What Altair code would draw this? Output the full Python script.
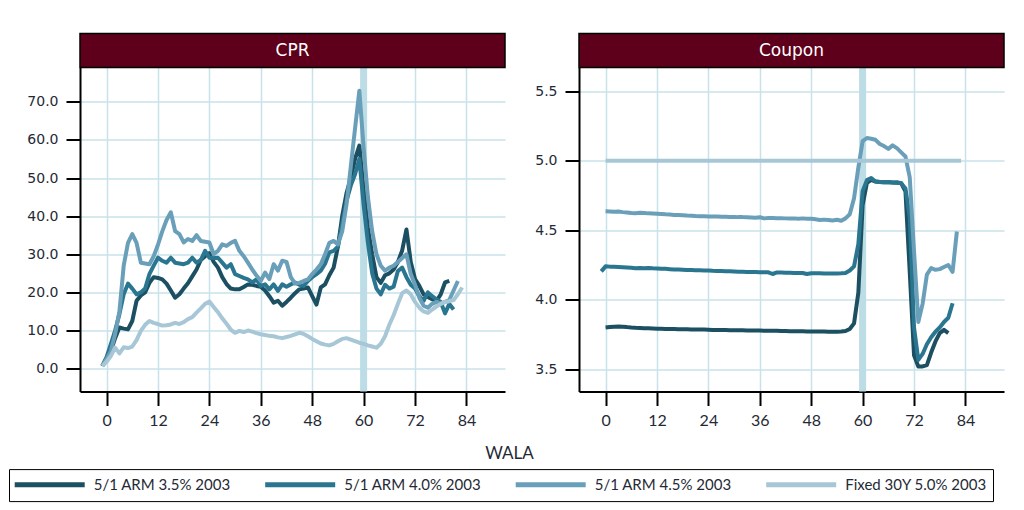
import altair as alt
import pandas as pd

# ---------------- data ----------------
series_names = ["5/1 ARM 3.5% 2003", "5/1 ARM 4.0% 2003", "5/1 ARM 4.5% 2003", "Fixed 30Y 5.0% 2003"]
series_colors = ["#1b4f61", "#2a7690", "#6a9fba", "#a7c7d7"]

x_ticks = [0, 12, 24, 36, 48, 60, 72, 84]
cpr_ticks = [0, 10, 20, 30, 40, 50, 60, 70]
cpn_ticks = [3.5, 4.0, 4.5, 5.0, 5.5]
band_wala = [60]

# CPR panel
cpr_35_wala = list(range(-1, 81))
cpr_35 = [0.7, 2.5, 4.6, 8.0, 10.8, 10.5, 10.3, 12.5, 17.8, 19.2, 20.0, 22.5, 24.0, 23.8, 23.4, 22.3,
          20.5, 18.6, 19.5, 21.0, 22.4, 24.2, 26.0, 28.5, 29.5, 30.3, 28.0, 26.5, 24.0, 22.2, 21.0,
          20.8, 20.8, 21.4, 22.1, 22.0, 21.7, 21.5, 20.5, 19.0, 17.3, 17.8, 16.5, 17.5, 18.6, 19.8,
          20.8, 21.0, 21.3, 19.0, 16.8, 21.3, 22.1, 24.5, 26.5, 32.0, 40.0, 46.0, 50.0, 55.0, 58.5,
          47.0, 37.0, 30.0, 24.0, 22.5, 24.5, 25.0, 26.0, 28.0, 31.0, 36.5, 28.0, 23.5, 21.7, 19.5,
          18.8, 18.2, 17.8, 19.5, 22.6, 23.0]

cpr_40_wala = list(range(-1, 82))
cpr_40 = [0.7, 3.0, 6.4, 10.0, 14.3, 19.5, 22.3, 21.0, 19.5, 20.0, 21.0, 24.8, 27.0, 29.1, 28.3, 27.8,
          29.1, 27.8, 27.6, 27.4, 27.8, 29.1, 27.8, 28.5, 30.9, 29.1, 29.0, 29.1, 27.8, 26.5, 27.4,
          24.8, 24.3, 23.8, 23.4, 22.6, 23.4, 21.7, 22.1, 20.8, 22.1, 20.4, 22.1, 21.5, 22.1, 22.6,
          22.0, 21.7, 23.0, 24.0, 24.8, 25.7, 27.5, 30.5, 30.9, 32.0, 38.0, 44.0, 48.0, 51.0, 55.0,
          43.0, 33.0, 25.0, 21.0, 19.5, 22.0, 21.0, 21.5, 25.6, 26.5, 24.0, 22.0, 21.0, 19.0, 17.8,
          20.0, 19.0, 18.2, 17.5, 14.5, 17.0, 15.5]

cpr_45_wala = list(range(-1, 83))
cpr_45 = [0.7, 2.5, 4.6, 9.0, 15.0, 27.0, 33.0, 35.3, 33.0, 27.8, 27.6, 27.4, 29.5, 32.5, 36.0, 39.0,
          41.0, 36.1, 35.3, 33.1, 34.0, 33.5, 35.0, 33.5, 33.3, 33.1, 30.0, 30.9, 32.6, 32.2, 33.0,
          33.5, 30.9, 29.5, 27.8, 26.0, 24.4, 23.0, 25.2, 23.5, 27.4, 25.7, 28.3, 28.0, 24.0, 22.3,
          22.5, 23.0, 23.4, 24.8, 26.0, 27.4, 30.0, 33.0, 33.5, 32.6, 36.0, 43.0, 53.0, 63.0, 72.9,
          58.0, 45.0, 36.0, 30.0, 27.0, 25.7, 26.5, 27.0, 28.0, 29.0, 30.0, 24.8, 22.0, 18.6, 16.5,
          16.0, 17.0, 17.5, 17.0, 17.5, 18.0, 20.5, 23.0]

cpr_fx_wala = list(range(-1, 84))
cpr_fx = [0.7, 1.8, 3.3, 5.5, 4.0, 5.6, 5.4, 5.8, 7.5, 9.9, 11.5, 12.5, 12.0, 11.7, 11.3, 11.4,
          11.6, 12.0, 11.7, 12.2, 13.0, 13.5, 14.7, 15.8, 17.0, 17.6, 16.2, 14.8, 13.2, 11.8, 10.2,
          9.4, 9.9, 9.6, 10.0, 9.7, 9.3, 9.0, 8.8, 8.6, 8.5, 8.2, 8.0, 8.3, 8.6, 9.0, 9.4, 9.1, 8.5,
          7.8, 7.2, 6.6, 6.3, 6.1, 6.5, 7.2, 7.8, 8.0, 7.6, 7.2, 6.8, 6.5, 6.1, 5.8, 5.5, 6.5, 8.5,
          11.5, 14.0, 17.0, 19.8, 20.5, 19.5, 17.5, 16.0, 15.0, 14.6, 15.5, 16.3, 17.0, 17.5, 17.7,
          18.0, 19.5, 21.3]

# Coupon panel
cpn_35_wala = list(range(0, 81))
cpn_35 = [3.800, 3.804, 3.806, 3.807, 3.805, 3.803, 3.800, 3.798, 3.797, 3.795, 3.794, 3.793, 3.792,
          3.791, 3.790, 3.790, 3.789, 3.788, 3.788, 3.787, 3.786, 3.786, 3.785, 3.785, 3.784, 3.783,
          3.783, 3.782, 3.782, 3.781, 3.781, 3.780, 3.780, 3.779, 3.779, 3.778, 3.778, 3.777, 3.777,
          3.776, 3.776, 3.775, 3.775, 3.774, 3.774, 3.773, 3.773, 3.772, 3.772, 3.771, 3.771, 3.771,
          3.770, 3.770, 3.770, 3.772, 3.775, 3.790, 3.830, 4.050, 4.680, 4.840, 4.862, 4.850, 4.846,
          4.844, 4.845, 4.843, 4.842, 4.838, 4.780, 4.200, 3.600, 3.520, 3.520, 3.530, 3.620, 3.700,
          3.760, 3.783, 3.760]

cpn_40_wala = list(range(-1, 82))
cpn_40 = [4.204, 4.240, 4.238, 4.237, 4.236, 4.234, 4.232, 4.230, 4.226, 4.228, 4.226, 4.228, 4.226,
          4.225, 4.222, 4.222, 4.220, 4.218, 4.218, 4.216, 4.214, 4.214, 4.212, 4.212, 4.210, 4.210,
          4.208, 4.207, 4.206, 4.205, 4.204, 4.203, 4.202, 4.201, 4.200, 4.200, 4.199, 4.198, 4.197,
          4.197, 4.185, 4.196, 4.195, 4.194, 4.194, 4.193, 4.192, 4.192, 4.185, 4.191, 4.190, 4.190,
          4.189, 4.189, 4.188, 4.189, 4.190, 4.192, 4.210, 4.240, 4.400, 4.780, 4.860, 4.876, 4.850,
          4.846, 4.845, 4.846, 4.843, 4.845, 4.838, 4.800, 4.590, 3.800, 3.567, 3.610, 3.680, 3.730,
          3.770, 3.800, 3.840, 3.870, 3.975]

cpn_45_wala = list(range(0, 83))
cpn_45 = [4.636, 4.635, 4.633, 4.634, 4.630, 4.627, 4.623, 4.622, 4.625, 4.624, 4.621, 4.620, 4.618,
          4.616, 4.614, 4.613, 4.610, 4.609, 4.607, 4.605, 4.604, 4.602, 4.601, 4.600, 4.599, 4.598,
          4.598, 4.597, 4.596, 4.595, 4.595, 4.594, 4.594, 4.593, 4.592, 4.590, 4.593, 4.585, 4.588,
          4.587, 4.586, 4.586, 4.585, 4.584, 4.585, 4.583, 4.585, 4.583, 4.582, 4.578, 4.574, 4.576,
          4.574, 4.570, 4.575, 4.568, 4.585, 4.615, 4.730, 4.950, 5.140, 5.163, 5.158, 5.150, 5.120,
          5.105, 5.085, 5.110, 5.090, 5.060, 5.030, 4.880, 4.350, 3.840, 3.970, 4.180, 4.228, 4.215,
          4.220, 4.235, 4.250, 4.200, 4.490]

cpn_fx_wala = [0, 83]
cpn_fx = [5.0, 5.0]


def frame(name, walas, vals):
    return pd.DataFrame({"wala": walas, "value": vals, "series": name})


cpr_df = pd.concat([frame(series_names[0], cpr_35_wala, cpr_35),
                    frame(series_names[1], cpr_40_wala, cpr_40),
                    frame(series_names[2], cpr_45_wala, cpr_45),
                    frame(series_names[3], cpr_fx_wala, cpr_fx)], ignore_index=True)
cpn_df = pd.concat([frame(series_names[0], cpn_35_wala, cpn_35),
                    frame(series_names[1], cpn_40_wala, cpn_40),
                    frame(series_names[2], cpn_45_wala, cpn_45),
                    frame(series_names[3], cpn_fx_wala, cpn_fx)], ignore_index=True)

# ---------------- styling ----------------
W, H = 425, 324
STRIP_H = 34
GRID = "#c8e2ea"
BAND = "#bcdce6"
STRIP = "#5e001b"
TXT = "#1f2a36"

# wide, flat line symbol (custom path, unit = sqrt(size)/2)
legend = alt.Legend(title=None, orient="none", legendX=-71, legendY=401.6, direction="horizontal",
                    symbolType="M -1.4 0 L 8.6 0", symbolSize=196, symbolStrokeWidth=5,
                    labelFont="Lato", labelFontSize=15, labelColor=TXT, labelOffset=59.7,
                    columnPadding=23.5, padding=6, strokeColor="black", columns=4)


def panel(df, title, ydom, yvals, xtitle):
    axis_kw = dict(values=x_ticks, labelFont="Lato", labelFontSize=16,
                   labelColor=TXT, labelPadding=7, tickSize=14, tickWidth=2,
                   tickColor="black", domainColor="black", domainWidth=2,
                   gridColor=GRID, gridWidth=1.5, labelFlush=False)
    if xtitle:
        axis_kw.update(title=xtitle, titleFont="Lato", titleFontSize=17, titleFontWeight="normal",
                       titleColor=TXT, titleX=429, titleY=62, titleAlign="center",
                       titleBaseline="middle")
    else:
        axis_kw.update(title=None)
    x = alt.X("wala:Q", scale=alt.Scale(domain=[-6.2, 93], nice=False, zero=False),
              axis=alt.Axis(**axis_kw))
    band = alt.Chart(pd.DataFrame({"wala": band_wala})).mark_rule(
        color=BAND, strokeWidth=7).encode(x=x)
    lines = alt.Chart(df).mark_line(strokeWidth=4, strokeJoin="round").encode(
        x=x,
        y=alt.Y("value:Q", scale=alt.Scale(domain=ydom, nice=False, zero=False),
                axis=alt.Axis(values=yvals, format=".1f", title=None, labelFont="DejaVu Sans",
                              labelFontSize=14, labelColor=TXT, labelPadding=8, tickSize=14,
                              tickWidth=2, tickColor="black", domainColor="black",
                              domainWidth=2, gridColor=GRID, gridWidth=1.5)),
        color=alt.Color("series:N", scale=alt.Scale(domain=series_names, range=series_colors),
                        legend=legend),
    )
    sdf = pd.DataFrame({"label": [title]})
    strip = alt.Chart(sdf).mark_rect(fill=STRIP, stroke="black", strokeWidth=1.5).encode(
        x=alt.value(0), x2=alt.value(W), y=alt.value(-STRIP_H), y2=alt.value(0))
    stext = alt.Chart(sdf).mark_text(color="white", font="DejaVu Sans", fontSize=17,
                                     baseline="middle", align="center").encode(
        x=alt.value(W / 2), y=alt.value(-STRIP_H / 2), text="label:N")
    return alt.layer(band, lines, strip, stext).properties(width=W, height=H)


left = panel(cpr_df, "CPR", [-6, 79], cpr_ticks, "WALA")
right = panel(cpn_df, "Coupon", [3.34, 5.67], cpn_ticks, None)

chart = alt.hconcat(left, right, spacing=0).properties(
    padding={"left": 0, "top": 24.5, "right": 0, "bottom": 0},
).configure_view(stroke=None)

chart.save("out.html", embed_options={"renderer": "svg", "actions": False})
